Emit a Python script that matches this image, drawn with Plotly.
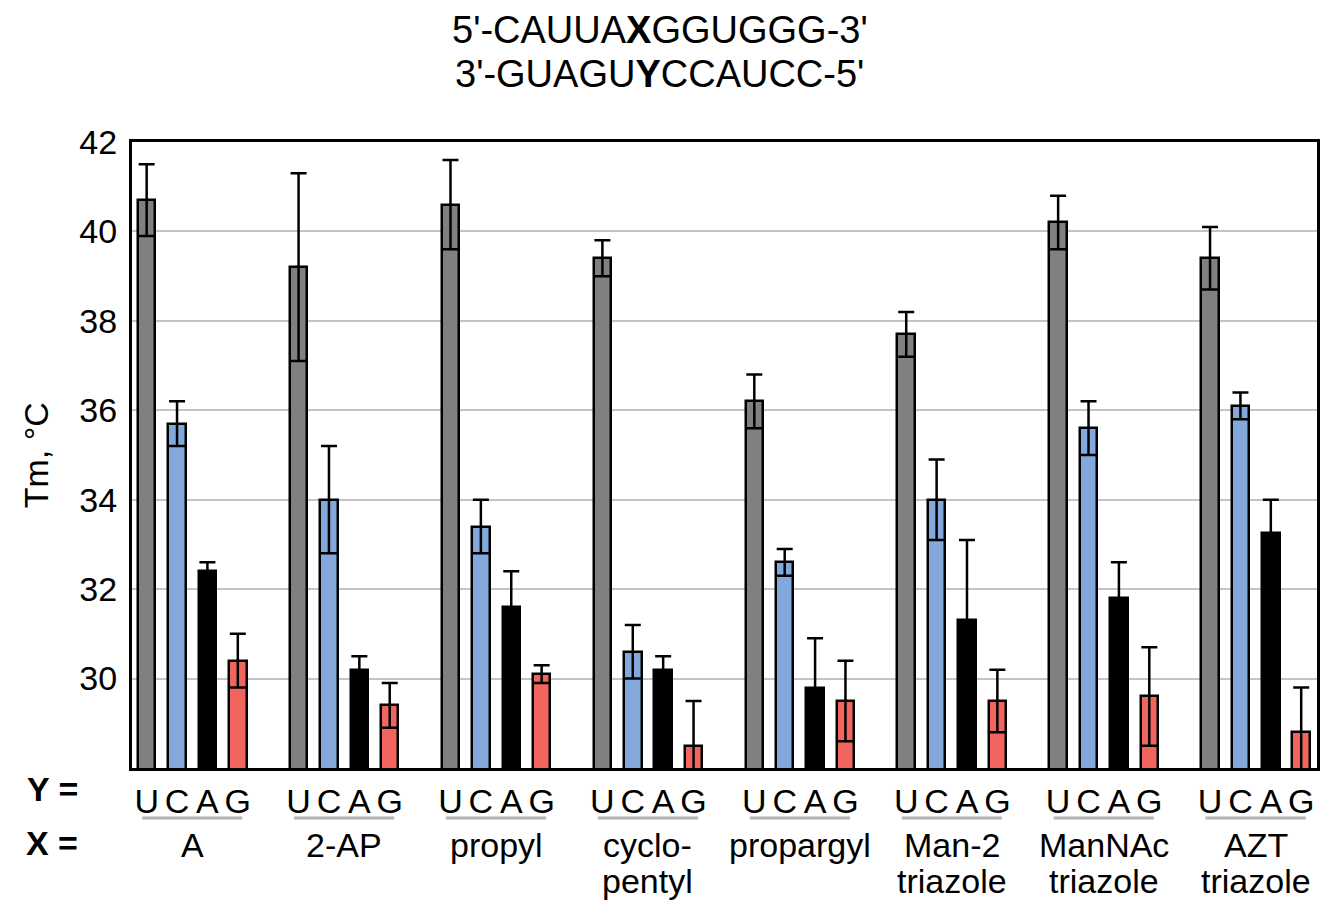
import plotly.graph_objects as go

# ---- data ----
x_groups = ["A", "2-AP", "propyl", "cyclo-<br>pentyl", "propargyl",
            "Man-2<br>triazole", "ManNAc<br>triazole", "AZT<br>triazole"]
y_bases = ["U", "C", "A", "G"]

tm_U = [40.7, 39.2, 40.6, 39.4, 36.2, 37.7, 40.2, 39.4]
err_U = [0.8, 2.1, 1.0, 0.4, 0.6, 0.5, 0.6, 0.7]
tm_C = [35.7, 34.0, 33.4, 30.6, 32.6, 34.0, 35.6, 36.1]
err_C = [0.5, 1.2, 0.6, 0.6, 0.3, 0.9, 0.6, 0.3]
tm_A = [32.4, 30.2, 31.6, 30.2, 29.8, 31.3, 31.8, 33.25]
err_A = [0.2, 0.3, 0.8, 0.3, 1.1, 1.8, 0.8, 0.75]
tm_G = [30.4, 29.4, 30.1, 28.5, 29.5, 29.5, 29.6, 28.8]
err_G = [0.6, 0.5, 0.2, 1.0, 0.9, 0.7, 1.1, 1.0]

y_ticks = [30, 32, 34, 36, 38, 40, 42]

# ---- styling ----
FONT = "Liberation Sans, Arial, Helvetica, sans-serif"
colors = ["#808080", "#82a8dc", "#000000", "#f0665e"]
series = [(tm_U, err_U), (tm_C, err_C), (tm_A, err_A), (tm_G, err_G)]
offsets = [0.0, 0.2, 0.4, 0.6]
bar_w = 0.115

fig = go.Figure()
tickvals, ticktext = [], []
for j, ((vals, errs), col) in enumerate(zip(series, colors)):
    xs = [i + offsets[j] for i in range(len(x_groups))]
    tickvals += xs
    ticktext += [y_bases[j]] * len(xs)
    fig.add_trace(go.Bar(
        x=xs, y=vals, width=bar_w, name=y_bases[j],
        marker=dict(color=col, line=dict(color="black", width=2.5)),
        error_y=dict(type="data", array=errs, visible=True,
                     color="black", thickness=2.5, width=8),
        showlegend=False,
    ))

fig.update_layout(
    width=1322, height=901,
    margin=dict(l=132, r=2, t=142, b=133),
    paper_bgcolor="white", plot_bgcolor="white",
    font=dict(family=FONT, size=34, color="black"),
    bargap=0,
)
fig.update_xaxes(
    range=[-0.0965, 7.704], showgrid=False, zeroline=False,
    showline=True, mirror=True, linecolor="black", linewidth=3,
    tickvals=tickvals, ticktext=ticktext, ticks="",
    tickfont=dict(size=34), ticklabelstandoff=1,
)
fig.update_yaxes(
    range=[28, 42], tickvals=y_ticks, showgrid=True,
    gridcolor="#c4c4c4", gridwidth=2, zeroline=False,
    showline=True, mirror=True, linecolor="black", linewidth=3,
    ticks="", tickfont=dict(size=34), ticklabelstandoff=5,
)

H = 626.0
W = 1188.0
def py(pix):
    return (768 - pix) / H
def px(pix):
    return (pix - 132) / W

annotations = []
shapes = []
for i, lab in enumerate(x_groups):
    cx = i + 0.3
    lines = lab.split("<br>")
    for k, ln in enumerate(lines):
        annotations.append(dict(x=cx, y=py(845 + 36 * k), xref="x", yref="paper",
                                text=ln, showarrow=False, xanchor="center",
                                yanchor="middle", font=dict(size=34)))
    shapes.append(dict(type="line", xref="x", yref="paper",
                       x0=i - 0.03, x1=i + 0.63, y0=py(818), y1=py(818),
                       line=dict(color="#b4b4b4", width=3)))

annotations += [
    dict(x=px(52), y=py(789), xref="paper", yref="paper", text="<b>Y =</b>",
         showarrow=False, xanchor="center", yanchor="middle", font=dict(size=34)),
    dict(x=px(52), y=py(843), xref="paper", yref="paper", text="<b>X =</b>",
         showarrow=False, xanchor="center", yanchor="middle", font=dict(size=34)),
    dict(x=px(36), y=0.5, xref="paper", yref="paper", text="Tm, °C",
         textangle=-90, showarrow=False, xanchor="center", yanchor="middle",
         font=dict(size=34)),
    dict(x=px(661), y=py(30), xref="paper", yref="paper",
         text="5'-CAUUA<b>X</b>GGUGGG-3'", showarrow=False,
         xanchor="center", yanchor="middle", font=dict(size=38)),
    dict(x=px(661), y=py(74), xref="paper", yref="paper",
         text="3'-GUAGU<b>Y</b>CCAUCC-5'", showarrow=False,
         xanchor="center", yanchor="middle", font=dict(size=38)),
]
fig.update_layout(annotations=annotations, shapes=shapes)

fig.write_html("out.html",
               config={"displayModeBar": False},
               post_script="document.body.style.margin='0px';"
                           "document.body.style.overflow='hidden';")
